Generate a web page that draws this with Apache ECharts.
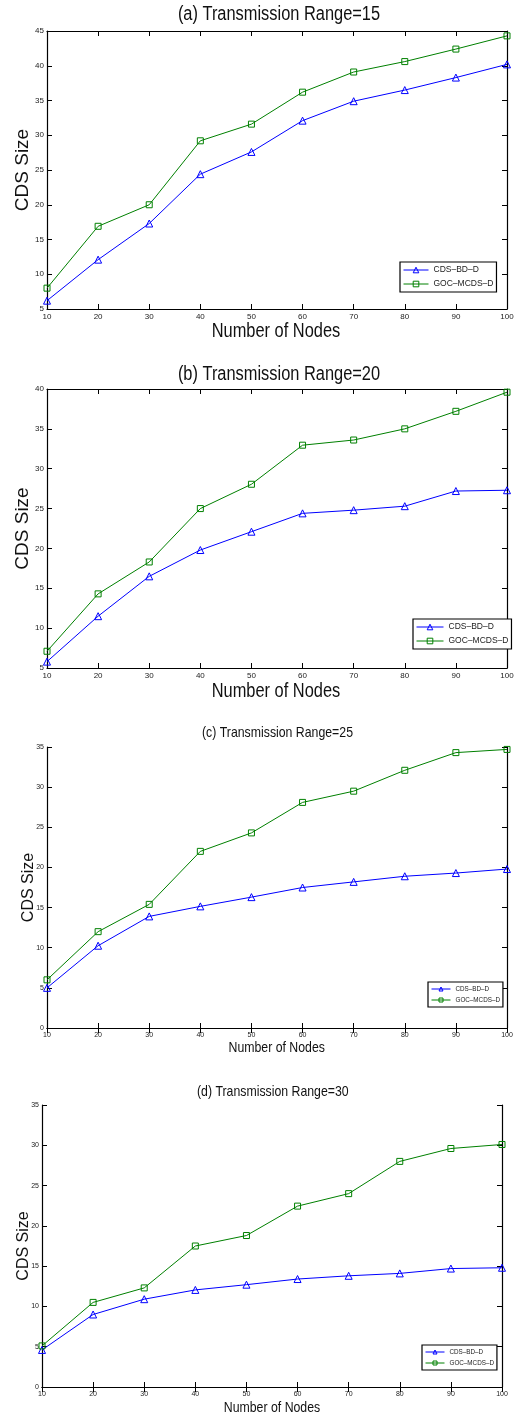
<!DOCTYPE html>
<html>
<head>
<meta charset="utf-8">
<script src="https://cdn.jsdelivr.net/npm/echarts@6/dist/echarts.min.js"></script>
<style>
html,body{margin:0;padding:0;background:#fff;}
#c{width:524px;height:1416px;}
</style>
</head>
<body>
<div id="c"></div>
<script>
const nodes = [10, 20, 30, 40, 50, 60, 70, 80, 90, 100];
const seriesNames = ['CDS\u2013BD\u2013D', 'GOC\u2013MCDS\u2013D'];
const titles = ['(a) Transmission Range=15', '(b) Transmission Range=20', '(c) Transmission Range=25', '(d) Transmission Range=30'];
const xName = 'Number of Nodes';
const yName = 'CDS Size';

const cdsA = [6.2, 12.1, 17.3, 24.4, 27.6, 32.1, 34.9, 36.5, 38.3, 40.2];
const gocA = [8.0, 16.9, 20.0, 29.2, 31.6, 36.2, 39.1, 40.6, 42.4, 44.3];
const cdsB = [5.8, 11.5, 16.5, 19.8, 22.1, 24.4, 24.8, 25.3, 27.2, 27.3];
const gocB = [7.1, 14.3, 18.3, 25.0, 28.05, 32.95, 33.6, 35.0, 37.2, 39.6];
const cdsC = [5.0, 10.25, 13.9, 15.15, 16.3, 17.5, 18.2, 18.9, 19.3, 19.8];
const gocC = [6.0, 12.0, 15.4, 22.0, 24.3, 28.1, 29.5, 32.1, 34.3, 34.7];
const cdsD = [4.6, 9.0, 10.9, 12.05, 12.7, 13.4, 13.8, 14.1, 14.7, 14.8];
const gocD = [5.1, 10.5, 12.3, 17.5, 18.8, 22.45, 24.0, 28.0, 29.6, 30.1];

const yRanges = [[5, 45], [5, 40], [0, 35], [0, 35]];
const xRange = [10, 100];

const REG = '"Liberation Sans", Arial, Helvetica, sans-serif';
const SQUEEZE = 0.82;

const panels = [
  {cds: cdsA, goc: gocA, grid: {left: 47, top: 31, width: 460, height: 278},
   title: {x: 279, y: 14, fs: 20}, xn: {x: 276, y: 331, fs: 20},
   yNameSize: 19, yNameGap: 15, tickSize: 8,
   legend: {left: 400, top: 262, iw: 25, fs: 8.5, gap: 4, lh: 10}},
  {cds: cdsB, goc: gocB, grid: {left: 47, top: 389, width: 460, height: 279},
   title: {x: 279, y: 374, fs: 20}, xn: {x: 276, y: 691.5, fs: 20},
   yNameSize: 19, yNameGap: 15, tickSize: 8,
   legend: {left: 413, top: 619, iw: 27, fs: 8.5, gap: 4, lh: 10}},
  {cds: cdsC, goc: gocC, grid: {left: 47, top: 747, width: 460, height: 281},
   title: {x: 277.5, y: 732.5, fs: 15}, xn: {x: 276.7, y: 1048, fs: 15},
   yNameSize: 16, yNameGap: 10, tickSize: 7,
   legend: {left: 428, top: 982, iw: 19, fs: 6.3, gap: 3, lh: 8}},
  {cds: cdsD, goc: gocD, grid: {left: 42, top: 1105, width: 460, height: 282},
   title: {x: 272.8, y: 1091.7, fs: 15}, xn: {x: 272, y: 1407.5, fs: 15},
   yNameSize: 16, yNameGap: 10, tickSize: 7,
   legend: {left: 422, top: 1345, iw: 19, fs: 6.3, gap: 3, lh: 8}}
];

const option = {
  animation: false,
  backgroundColor: '#fff',
  legend: [], grid: [], xAxis: [], yAxis: [], series: [],
  graphic: {elements: []}
};

function pairs(vals) { return nodes.map((n, i) => [n, vals[i]]); }
function squeezedText(text, t) {
  return {
    type: 'text', x: t.x, y: t.y, scaleX: SQUEEZE, silent: true,
    style: {text: text, fontFamily: REG, fontSize: t.fs, fill: '#111', textAlign: 'center', textVerticalAlign: 'middle'}
  };
}

panels.forEach((p, i) => {
  option.grid.push(Object.assign({containLabel: false}, p.grid));
  option.graphic.elements.push(squeezedText(titles[i], p.title));
  option.graphic.elements.push(squeezedText(xName, p.xn));
  const axisLine = {show: true, lineStyle: {color: '#000', width: 1.2}};
  const tick = {show: true, inside: true, length: 5, lineStyle: {color: '#000', width: 1}};
  option.xAxis.push({
    type: 'value', gridIndex: i, min: xRange[0], max: xRange[1], interval: 10, position: 'bottom',
    axisLine: axisLine, axisTick: tick, splitLine: {show: false},
    axisLabel: {fontFamily: REG, fontSize: p.tickSize, color: '#222', margin: 4}
  });
  option.xAxis.push({
    type: 'value', gridIndex: i, min: xRange[0], max: xRange[1], interval: 10, position: 'top',
    axisLine: axisLine, axisTick: tick, splitLine: {show: false}, axisLabel: {show: false}
  });
  option.yAxis.push({
    type: 'value', gridIndex: i, min: yRanges[i][0], max: yRanges[i][1], interval: 5, position: 'left',
    axisLine: axisLine, axisTick: tick, splitLine: {show: false},
    axisLabel: {fontFamily: REG, fontSize: p.tickSize, color: '#222', margin: 3},
    name: yName, nameLocation: 'middle', nameGap: p.yNameGap, nameRotate: 90, nameMoveOverlap: false,
    nameTextStyle: {fontFamily: REG, fontSize: p.yNameSize, color: '#111'}
  });
  option.yAxis.push({
    type: 'value', gridIndex: i, min: yRanges[i][0], max: yRanges[i][1], interval: 5, position: 'right',
    axisLine: axisLine, axisTick: tick, splitLine: {show: false}, axisLabel: {show: false}
  });
  option.series.push({
    name: seriesNames[0], type: 'line', xAxisIndex: 2 * i, yAxisIndex: 2 * i, data: pairs(p.cds),
    symbol: 'triangle', symbolSize: 7,
    itemStyle: {color: 'rgba(255,255,255,0)', borderColor: '#0000ff', borderWidth: 1},
    lineStyle: {color: '#0000ff', width: 1}
  });
  option.series.push({
    name: seriesNames[1], type: 'line', xAxisIndex: 2 * i, yAxisIndex: 2 * i, data: pairs(p.goc),
    symbol: 'rect', symbolSize: 6,
    itemStyle: {color: 'rgba(255,255,255,0)', borderColor: '#008000', borderWidth: 1},
    lineStyle: {color: '#008000', width: 1}
  });
  const L = p.legend;
  option.legend.push({
    data: seriesNames, orient: 'vertical', left: L.left, top: L.top,
    padding: [3, 3, 3, 3], itemGap: L.gap, itemWidth: L.iw, itemHeight: L.lh - 3,
    borderColor: '#000', borderWidth: 1.2, backgroundColor: '#fff', selectedMode: false,
    lineStyle: {width: 1},
    itemStyle: {borderWidth: 1},
    textStyle: {fontFamily: REG, fontSize: L.fs, color: '#222', lineHeight: L.lh}
  });
});

const chart = echarts.init(document.getElementById('c'), null, {renderer: 'canvas'});
chart.setOption(option);
</script>
</body>
</html>
